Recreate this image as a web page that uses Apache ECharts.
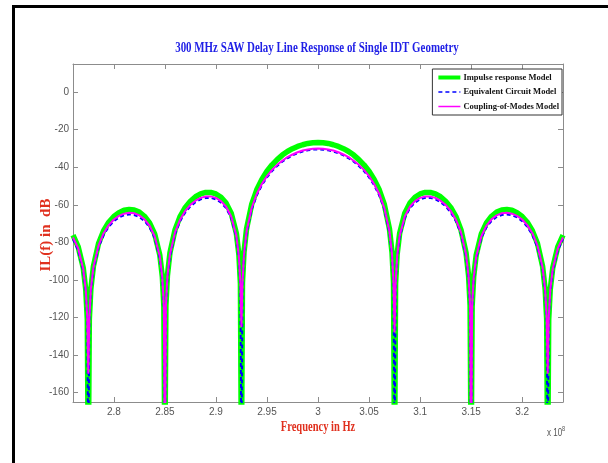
<!DOCTYPE html>
<html><head><meta charset="utf-8">
<script src="https://cdn.jsdelivr.net/npm/echarts@6/dist/echarts.min.js"></script>
<style>html,body{margin:0;padding:0;background:#fff}#c{width:608px;height:463px}</style>
</head><body><div id="c"></div><script>
// Frequency in units of 1e8 Hz
const freqs = [2.760,2.765,2.770,2.7725,2.774,2.775,2.776,2.7775,2.780,2.785,2.790,2.795,2.800,2.805,2.810,2.815,2.820,2.825,2.830,2.835,2.840,2.845,2.8475,2.849,2.850,2.851,2.8525,2.855,2.860,2.865,2.870,2.875,2.880,2.885,2.890,2.895,2.900,2.905,2.910,2.915,2.920,2.9225,2.924,2.925,2.926,2.9275,2.930,2.935,2.940,2.945,2.950,2.955,2.960,2.965,2.970,2.975,2.980,2.985,2.990,2.995,3.000,
3.005,3.010,3.015,3.020,3.025,3.030,3.035,3.040,3.045,3.050,3.055,3.060,3.065,3.070,3.0725,3.074,3.075,3.076,3.0775,3.080,3.085,3.090,3.095,3.100,3.105,3.110,3.115,3.120,3.125,3.130,3.135,3.140,3.145,3.1475,3.149,3.150,3.151,3.1525,3.155,3.160,3.165,3.170,3.175,3.180,3.185,3.190,3.195,3.200,3.205,3.210,3.215,3.220,3.2225,3.224,3.225,3.226,3.2275,3.230,3.235,3.240];

const impulse = [-76.1,-82.2,-93.4,-105.2,-121.0,-200,-120.8,-104.8,-92.7,-80.6,-73.8,-69.3,-66.2,-64.2,-62.9,-62.5,-62.8,-63.9,-66.1,-69.6,-75.5,-86.6,-98.2,-114.0,-200,-113.7,-97.7,-85.4,-73.2,-66.1,-61.4,-58.1,-55.7,-54.2,-53.4,-53.4,-54.2,-56.0,-59.1,-64.5,-75.1,-86.5,-102.0,-200,-101.6,-85.3,-72.8,-59.8,-52.0,-46.5,-42.1,-38.7,-35.9,-33.5,-31.6,-30.1,-28.9,-28.0,-27.3,-26.9,-26.8,
-26.9,-27.3,-28.0,-28.9,-30.1,-31.6,-33.5,-35.9,-38.7,-42.1,-46.5,-52.0,-59.8,-72.8,-85.3,-101.6,-200,-102.0,-86.5,-75.1,-64.5,-59.1,-56.0,-54.2,-53.4,-53.4,-54.2,-55.7,-58.1,-61.4,-66.1,-73.2,-85.4,-97.7,-113.7,-200,-114.0,-98.2,-86.6,-75.5,-69.6,-66.1,-63.9,-62.8,-62.5,-62.9,-64.2,-66.2,-69.3,-73.8,-80.6,-92.7,-104.8,-120.8,-200,-121.0,-105.2,-93.4,-82.2,-76.1];

const equivalent = [-78.3,-84.2,-95.1,-106.5,-121.8,-200,-121.7,-106.2,-94.4,-82.7,-76.1,-71.7,-68.7,-66.7,-65.5,-65.1,-65.4,-66.5,-68.6,-72.0,-77.7,-88.5,-99.8,-115.0,-200,-114.8,-99.2,-87.4,-75.5,-68.6,-64.1,-60.8,-58.6,-57.1,-56.3,-56.3,-57.1,-58.8,-61.8,-67.1,-77.3,-88.4,-103.5,-200,-103.0,-87.3,-75.1,-62.5,-55.0,-49.6,-45.4,-42.0,-39.3,-37.0,-35.2,-33.7,-32.5,-31.6,-31.0,-30.6,-30.5,
-30.6,-31.0,-31.6,-32.5,-33.7,-35.2,-37.0,-39.3,-42.0,-45.4,-49.6,-55.0,-62.5,-75.1,-87.3,-103.0,-200,-103.5,-88.4,-77.3,-67.1,-61.8,-58.8,-57.1,-56.3,-56.3,-57.1,-58.6,-60.8,-64.1,-68.6,-75.5,-87.4,-99.2,-114.8,-200,-115.0,-99.8,-88.5,-77.7,-72.0,-68.6,-66.5,-65.4,-65.1,-65.5,-66.7,-68.7,-71.7,-76.1,-82.7,-94.4,-106.2,-121.7,-200,-121.8,-106.5,-95.1,-84.2,-78.3];

const com = [-77.3,-83.1,-94.0,-105.3,-120.4,-150,-120.3,-104.9,-93.2,-81.7,-75.1,-70.8,-67.8,-65.9,-64.7,-64.2,-64.5,-65.6,-67.7,-71.1,-76.7,-87.4,-98.6,-113.7,-200,-113.5,-98.0,-86.3,-74.5,-67.8,-63.2,-60.0,-57.8,-56.3,-55.6,-55.5,-56.3,-58.0,-61.0,-66.2,-76.4,-87.3,-102.2,-125,-101.8,-86.2,-74.1,-61.7,-54.2,-48.9,-44.7,-41.4,-38.7,-36.5,-34.6,-33.2,-32.0,-31.1,-30.5,-30.1,-30.0,
-30.1,-30.5,-31.1,-32.0,-33.2,-34.6,-36.5,-38.7,-41.4,-44.7,-48.9,-54.2,-61.7,-74.1,-86.2,-101.8,-128,-102.2,-87.3,-76.4,-66.2,-61.0,-58.0,-56.3,-55.5,-55.6,-56.3,-57.8,-60.0,-63.2,-67.8,-74.5,-86.3,-98.0,-113.5,-200,-113.7,-98.6,-87.4,-76.7,-71.1,-67.7,-65.6,-64.5,-64.2,-64.7,-65.9,-67.8,-70.8,-75.1,-81.7,-93.2,-104.9,-120.3,-150,-120.4,-105.3,-94.0,-83.1,-77.3];

const seriesNames = ['Impulse response Model','Equivalent Circuit Model','Coupling-of-Modes Model'];
const xTicks = [2.8,2.85,2.9,2.95,3,3.05,3.1,3.15,3.2];
const yTicks = [-160,-140,-120,-100,-80,-60,-40,-20,0];

const zip = v => freqs.map((f,i)=>[f, v[i]]);
const axisColor = '#8c8c8c';
const tickFont = '"Liberation Sans",sans-serif';
const serif = '"Liberation Serif","DejaVu Serif",serif';

const chart = echarts.init(document.getElementById('c'), null, {renderer:'canvas'});
const xBase = {type:'value', min:2.76, max:3.24, splitLine:{show:false},
  axisLine:{show:true, onZero:false, lineStyle:{color:axisColor, width:1}},
  axisTick:{show:true, inside:true, length:5, customValues:xTicks, lineStyle:{color:axisColor}}};
const yBase = {type:'value', min:-165, max:15, splitLine:{show:false},
  axisLine:{show:true, onZero:false, lineStyle:{color:axisColor, width:1}},
  axisTick:{show:true, inside:true, length:5, customValues:yTicks, lineStyle:{color:axisColor}}};

chart.setOption({
  animation:false,
  backgroundColor:'#fff',
  grid:{left:73, top:64, right:45, bottom:61, containLabel:false},
  xAxis:[
    Object.assign({}, xBase, {position:'bottom', axisLabel:{customValues:xTicks, color:'#555', fontSize:10, margin:5, fontFamily:tickFont, formatter:v=>String(v)}}),
    Object.assign({}, xBase, {position:'top', axisLabel:{show:false}})
  ],
  yAxis:[
    Object.assign({}, yBase, {position:'left', axisLabel:{customValues:yTicks, color:'#555', fontSize:10, margin:4, fontFamily:tickFont, formatter:v=>String(v)}}),
    Object.assign({}, yBase, {position:'right', axisLabel:{show:false}})
  ],
  legend:{
    data:[
      {name:seriesNames[0], lineStyle:{width:4}},
      {name:seriesNames[1], lineStyle:{width:1.5}},
      {name:seriesNames[2], lineStyle:{width:1.5}}
    ],
    orient:'vertical', align:'left', right:46, top:69,
    itemWidth:22, itemHeight:10, itemGap:5.5, padding:[4,3,4,4],
    borderColor:'#333', borderWidth:1, backgroundColor:'#fff', borderRadius:0,
    itemStyle:{color:'rgba(0,0,0,0)', borderColor:'rgba(0,0,0,0)', borderWidth:0, opacity:0},
    textStyle:{fontFamily:serif, fontWeight:'bold', fontSize:8.5, color:'#111', padding:[0,0,0,-2]}
  },
  series:[
    {name:seriesNames[0], type:'line', data:zip(impulse), symbol:'none', clip:true, z:2,
      lineStyle:{color:'#00ff00', width:5.5}, itemStyle:{color:'#00ff00'}},
    {name:seriesNames[1], type:'line', data:zip(equivalent), symbol:'none', clip:true, z:3,
      lineStyle:{color:'#0000ff', width:2, type:[4,3]}, itemStyle:{color:'#0000ff'}},
    {name:seriesNames[2], type:'line', data:zip(com), symbol:'none', clip:true, z:4,
      lineStyle:{color:'#ff00ff', width:2}, itemStyle:{color:'#ff00ff'}}
  ],
  graphic:[
    {type:'rect', silent:true, shape:{x:13.5, y:6.5, width:700, height:600}, style:{fill:'none', stroke:'#000', lineWidth:3}},
    {type:'text', x:317, y:48, scaleX:0.78, style:{text:'300 MHz SAW Delay Line Response of Single IDT Geometry', fill:'#1f1fe6', font:'bold 14px '+serif, textAlign:'center', textVerticalAlign:'middle'}},
    {type:'text', x:46, y:235, rotation:Math.PI/2, scaleX:1.0, style:{text:'IL(f) in  dB', fill:'#e0301e', font:'bold 15px '+serif, textAlign:'center', textVerticalAlign:'middle'}},
    {type:'text', x:318, y:427, scaleX:0.75, style:{text:'Frequency in Hz', fill:'#e0301e', font:'bold 14px '+serif, textAlign:'center', textVerticalAlign:'middle'}},
    {type:'text', x:547, y:433, scaleX:0.8, style:{text:'{a|x 10}{b|8}', textVerticalAlign:'middle', rich:{a:{fontSize:10, fill:'#555', fontFamily:tickFont}, b:{fontSize:7, fill:'#555', fontFamily:tickFont, verticalAlign:'top', padding:[0,0,8,0]}}}}
  ]
});
</script></body></html>
